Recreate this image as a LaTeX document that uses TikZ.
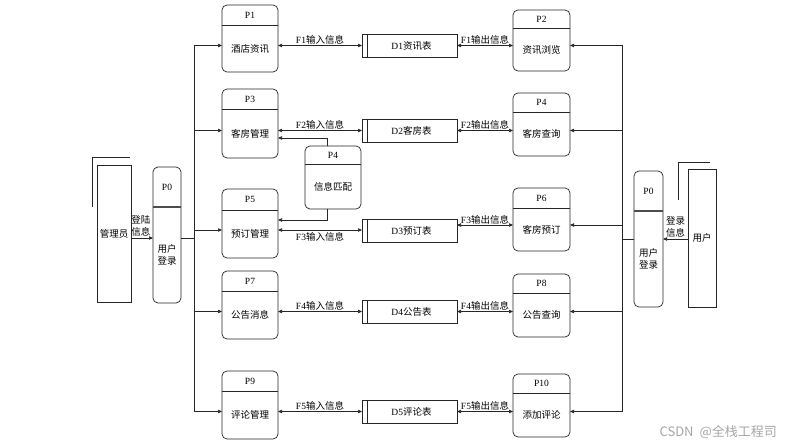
\documentclass[tikz,border=0pt]{standalone}
\usepackage{fontspec}
\setmainfont{Liberation Serif}
\newfontfamily\cjk{Noto Sans CJK SC}
\usetikzlibrary{arrows.meta}
\tikzset{
  line/.style={draw=black!85, line width=0.7pt},
  tip/.tip={Triangle[length=4pt,width=3.4pt]},
  arr/.style={line, -tip},
  darr/.style={line, tip-tip},
  procbox/.style={line, rounded corners=5pt, inner sep=0pt, outer sep=0pt},
  boxplain/.style={line, inner sep=0pt, outer sep=0pt},
  lbl/.style={font=\fontsize{9.5}{11.5}\selectfont, inner sep=0.6pt, align=center},
  thickhead/.style={line width=1.6pt, draw=black!70},
}
\newcommand\proc[9][]{%
  \node[procbox, minimum width={(#5-#3)*1pt}, minimum height={(#6-#4)*1pt}] (#2) at ({(#3+#5)/2},{(#4+#6)/2}) {};
  \draw[line,#1] (#2.west |- 0,#7) -- (#2.east |- 0,#7);
  \node[lbl] (#2h) at ({(#3+#5)/2},{(#4+#7)/2}) {#8};
  \node[lbl] (#2b) at ({(#3+#5)/2},{(#7+#6)/2}) {#9};
}
\newcommand\dstore[6]{%
  \node[boxplain, minimum width={(#4-#2)*1pt}, minimum height={(#5-#3)*1pt}] (#1) at ({(#2+#4)/2},{(#3+#5)/2}) {};
  \draw[line] ([xshift=5pt]#1.north west) -- ([xshift=5pt]#1.south west);
  \node[lbl] (#1t) at ({(#2+#4)/2+2},{(#3+#5)/2}) {#6};
}
\begin{document}
\begin{tikzpicture}[x=1pt,y=-1pt]
\useasboundingbox (0,0) rectangle (786,446);
% processes
\proc{P1}{222}{5}{278}{72}{25}{P1}{\cjk 酒店资讯}
\proc{P2}{513}{10}{570}{71}{28}{P2}{\cjk 资讯浏览}
\proc{P3}{222}{89}{278}{158}{109}{P3}{\cjk 客房管理}
\proc{P4}{513}{93}{570}{156}{112}{P4}{\cjk 客房查询}
\proc{P4m}{305}{146}{361}{209}{164}{P4}{\cjk 信息匹配}
\proc{P5}{222}{189}{278}{258}{210}{P5}{\cjk 预订管理}
\proc{P6}{513}{188}{570}{251}{208}{P6}{\cjk 客房预订}
\proc{P7}{222}{271}{278}{339}{291}{P7}{\cjk 公告消息}
\proc{P8}{513}{274}{570}{337}{293}{P8}{\cjk 公告查询}
\proc{P9}{222}{371}{278}{439}{391}{P9}{\cjk 评论管理}
\proc{P10}{513}{374}{570}{437}{393}{P10}{\cjk 添加评论}
\proc[thickhead]{P0L}{153}{167}{181}{303}{207}{P0}{\cjk 用户\\\cjk 登录}
\proc[thickhead]{P0R}{634}{171}{663}{307}{211}{P0}{\cjk 用户\\\cjk 登录}
% data stores
\dstore{D1}{362}{34}{457}{57}{D1\cjk 资讯表}
\dstore{D2}{362}{119}{457}{142}{D2\cjk 客房表}
\dstore{D3}{362}{219}{457}{242}{D3\cjk 预订表}
\dstore{D4}{362}{300}{457}{323}{D4\cjk 公告表}
\dstore{D5}{362}{400}{457}{423}{D5\cjk 评论表}
% external entities
\node[boxplain, minimum width=34pt, minimum height=137pt] (adm) at (114,233.5) {};
\node[lbl] (admt) at (adm) {\cjk 管理员};
\coordinate (admA) at (92,207);
\coordinate (admB) at (92,157);
\coordinate (admC) at (130,157);
\draw[line] (admA) -- (admB) -- (admC);
\node[boxplain, minimum width=28pt, minimum height=138pt] (usr) at (702,238) {};
\node[lbl] (usrt) at (usr) {\cjk 用户};
\coordinate (usrA) at (678,200);
\coordinate (usrB) at (678,162);
\coordinate (usrC) at (710,162);
\draw[line] (usrA) -- (usrB) -- (usrC);
% buses
\coordinate (lbus) at (194,0);
\coordinate (rbus) at (622,0);
\draw[line] (lbus |- D1) -- (lbus |- D5);
\draw[line] (rbus |- D1) -- (rbus |- D5);
% login
\draw[arr] (adm.east |- 0,238) -- node[lbl, above=1pt, pos=0.45] {\cjk 登陆\\\cjk 信息} (P0L.west |- 0,238);
\draw[line] (P0L.east |- 0,238) -- (lbus |- 0,238);
\draw[arr] (usr.west |- 0,239) -- node[lbl, above=1pt, pos=0.5] {\cjk 登录\\\cjk 信息} (P0R.east |- 0,239);
\draw[line] (P0R.west |- 0,239) -- (rbus |- 0,239);
% bus to processes
\draw[arr] (lbus |- D1) -- (P1.west |- D1);
\draw[arr] (lbus |- D2) -- (P3.west |- D2);
\draw[arr] (lbus |- 0,230) -- (P5.west |- 0,230);
\draw[arr] (lbus |- D4) -- (P7.west |- D4);
\draw[arr] (lbus |- D5) -- (P9.west |- D5);
\draw[arr] (rbus |- D1) -- (P2.east |- D1);
\draw[arr] (rbus |- D2) -- (P4.east |- D2);
\draw[arr] (rbus |- 0,225) -- (P6.east |- 0,225);
\draw[arr] (rbus |- D4) -- (P8.east |- D4);
\draw[arr] (rbus |- D5) -- (P10.east |- D5);
% process <-> store
\draw[darr] (P1.east |- D1) -- node[lbl, above] {F1\cjk 输入信息} (D1.west);
\draw[darr] (D1.east) -- node[lbl, above] {F1\cjk 输出信息} (P2.west |- D1);
\draw[darr] (P3.east |- D2) -- node[lbl, above] {F2\cjk 输入信息} (D2.west);
\draw[darr] (D2.east) -- node[lbl, above] {F2\cjk 输出信息} (P4.west |- D2);
\draw[darr] (P5.east |- 0,230) -- node[lbl, below=1pt] {F3\cjk 输入信息} (D3.west |- 0,230);
\draw[darr] (D3.east |- 0,225) -- node[lbl, above] {F3\cjk 输出信息} (P6.west |- 0,225);
\draw[darr] (P7.east |- D4) -- node[lbl, above] {F4\cjk 输入信息} (D4.west);
\draw[darr] (D4.east) -- node[lbl, above] {F4\cjk 输出信息} (P8.west |- D4);
\draw[darr] (P9.east |- D5) -- node[lbl, above] {F5\cjk 输入信息} (D5.west);
\draw[darr] (D5.east) -- node[lbl, above] {F5\cjk 输出信息} (P10.west |- D5);
% matching
\draw[arr] ([xshift=-6pt]P4m.north) |- (P3.east |- 0,138);
\draw[arr] ([xshift=-6pt]P4m.south) |- (P5.east |- 0,220);
% watermark
\node[font=\cjk\fontsize{13}{15}\selectfont, text=black!35, anchor=east, inner sep=0pt] (wm) at (777,432) {CSDN\hspace{3pt} @全栈工程司};
\end{tikzpicture}
\end{document}
